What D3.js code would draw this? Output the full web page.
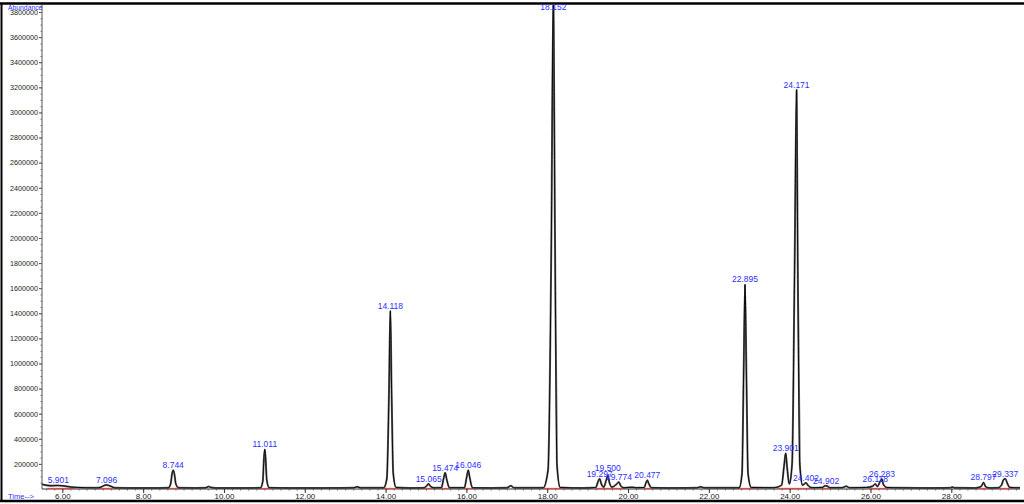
<!DOCTYPE html>
<html>
<head>
<meta charset="utf-8">
<script src="https://cdn.jsdelivr.net/npm/d3@7"></script>
<style>
  body { margin: 0; background: #fff; }
  text { font-family: "Liberation Sans", Arial, sans-serif; }
</style>
</head>
<body>
<svg id="chart" width="1024" height="504"></svg>
<script>
// chromatogram trace: [time (min), abundance]
const tracePoints = [
  [5.50, 38000],[5.60, 30000],[5.75, 26000],[5.90, 28000],[6.05, 24000],[6.20, 16000],[6.40, 12000],[6.60, 10000],[6.85, 9000],
  [6.95, 14000],[7.05, 30000],[7.10, 32000],[7.20, 22000],[7.30, 9000],
  [7.60, 8000],[8.00, 8000],[8.40, 8000],
  [8.62, 9000],[8.68, 40000],[8.72, 130000],[8.744, 150000],[8.77, 125000],[8.81, 40000],[8.88, 9000],
  [9.30, 8000],[9.55, 9000],[9.62, 20000],[9.68, 12000],[9.80, 8000],
  [10.50, 8000],[10.90, 9000],[10.96, 60000],[10.99, 250000],[11.011, 315000],[11.03, 250000],[11.06, 70000],[11.12, 10000],
  [11.60, 8000],[12.40, 8000],[13.20, 9000],[13.30, 18000],[13.38, 9000],
  [13.95, 9000],[14.03, 80000],[14.08, 700000],[14.118, 1420000],[14.15, 750000],[14.19, 120000],[14.26, 12000],
  [14.60, 8000],[14.95, 9000],[15.03, 30000],[15.065, 42000],[15.10, 25000],[15.20, 9000],
  [15.38, 10000],[15.44, 90000],[15.474, 130000],[15.51, 80000],[15.58, 10000],
  [15.95, 10000],[16.01, 100000],[16.046, 150000],[16.08, 95000],[16.15, 10000],
  [16.60, 8000],[17.00, 9000],[17.10, 25000],[17.18, 9000],
  [17.90, 9000],[18.02, 150000],[18.10, 1900000],[18.152, 3950000],[18.19, 2100000],[18.24, 200000],[18.32, 12000],
  [18.90, 8000],[19.20, 12000],[19.26, 60000],[19.297, 82000],[19.34, 40000],[19.40, 15000],[19.46, 70000],[19.50, 105000],
  [19.54, 50000],[19.60, 15000],[19.72, 40000],[19.774, 55000],[19.82, 25000],[19.90, 10000],
  [20.10, 14000],[20.20, 10000],[20.40, 12000],[20.45, 55000],[20.477, 70000],[20.51, 45000],[20.58, 10000],
  [21.00, 8000],[21.70, 9000],[21.80, 18000],[21.88, 9000],
  [22.75, 9000],[22.82, 120000],[22.86, 900000],[22.895, 1630000],[22.93, 900000],[22.97, 120000],[23.05, 12000],
  [23.60, 10000],[23.80, 30000],[23.86, 180000],[23.901, 285000],[23.94, 160000],[23.99, 40000],
  [24.06, 200000],[24.12, 1700000],[24.171, 3180000],[24.20, 1800000],[24.25, 200000],[24.32, 30000],[24.38, 45000],
  [24.402, 50000],[24.45, 30000],[24.55, 10000],
  [24.80, 12000],[24.88, 25000],[24.92, 24000],[25.00, 10000],
  [25.30, 10000],[25.40, 22000],[25.48, 10000],
  [25.90, 12000],[26.05, 22000],[26.118, 40000],[26.17, 20000],[26.24, 60000],[26.283, 80000],[26.32, 35000],[26.40, 12000],
  [26.80, 9000],[27.50, 8000],[27.98, 9000],[28.02, 16000],[28.08, 9000],
  [28.60, 8000],[28.74, 20000],[28.797, 52000],[28.85, 18000],[28.95, 8000],
  [29.15, 9000],[29.24, 30000],[29.30, 78000],[29.337, 82000],[29.38, 50000],[29.45, 12000],[29.70, 9000]
]

// integrated peaks
const peakLabels = ["5.901","7.096","8.744","11.011","14.118","15.065","15.474","16.046","18.152","19.297","19.500",
  "19.774","20.477","22.895","23.901","24.171","24.402","24.902","26.118","26.283","28.797","29.337"]
const peakHeights = [28000,32000,150000,315000,1420000,42000,130000,150000,3950000,82000,130000,
  55000,70000,1630000,285000,3180000,50000,25000,40000,80000,52000,82000]
const integStart = [5.62,6.88,8.60,10.85,13.93,14.92,15.36,15.93,17.88,19.20,19.44,
  19.68,20.38,22.72,23.70,24.03,24.32,24.78,25.95,26.20,28.45,29.15]
const integEnd = [6.30,7.30,8.92,11.40,14.50,15.22,15.62,16.40,18.60,19.44,19.68,
  19.95,20.62,23.30,24.03,24.32,24.55,25.05,26.20,26.45,29.00,29.50]

const xTicks = [6,8,10,12,14,16,18,20,22,24,26,28]
const yTicks = d3.range(200000, 3800001, 200000)

const svg = d3.select("#chart")
const mLeft = 42, mRight = 1020, mTop = 5, mBottom = 489

const x = d3.scaleLinear().domain([5.497, 29.7]).range([mLeft, mRight])
const y = d3.scaleLinear().domain([0, 3856000]).range([mBottom, mTop])

svg.append("defs").append("clipPath").attr("id", "plot")
  .append("rect").attr("x", mLeft).attr("y", mTop).attr("width", mRight - mLeft).attr("height", mBottom - mTop + 2)

// frame
svg.append("line").attr("x1", 0).attr("x2", 1024).attr("y1", 3.5).attr("y2", 3.5)
  .attr("stroke", "#000").attr("stroke-width", 2.5)
svg.append("line").attr("x1", 0).attr("x2", 1024).attr("y1", 501).attr("y2", 501)
  .attr("stroke", "#000").attr("stroke-width", 2.5)
svg.append("line").attr("x1", 1.5).attr("x2", 1.5).attr("y1", 3).attr("y2", 502)
  .attr("stroke", "#000").attr("stroke-width", 2)

// y axis
const yAxis = svg.append("g").attr("transform", `translate(${mLeft},0)`)
  .call(d3.axisLeft(y).tickValues(yTicks).tickSize(3).tickPadding(1).tickFormat(d3.format("d")))
yAxis.select(".domain").remove()
yAxis.selectAll("text").attr("font-size", 7.2).attr("fill", "#222")
yAxis.selectAll(".tick line").attr("stroke", "#444")
svg.append("g").attr("transform", `translate(${mLeft},0)`)
  .call(d3.axisLeft(y).tickValues(d3.range(50000, 3850001, 50000)).tickSize(1.5).tickFormat(""))
  .call(g => g.select(".domain").remove())
  .selectAll("line").attr("stroke", "#777")
svg.append("line").attr("x1", mLeft).attr("x2", mLeft).attr("y1", mTop).attr("y2", mBottom)
  .attr("stroke", "#555").attr("stroke-width", 1)

// x axis
svg.append("line").attr("x1", mLeft).attr("x2", mRight).attr("y1", mBottom).attr("y2", mBottom)
  .attr("stroke", "#333").attr("stroke-width", 1)
svg.append("g").attr("transform", `translate(0,${mBottom})`)
  .call(d3.axisBottom(x).tickValues(d3.range(5.6, 29.7, 0.2)).tickSize(1.5).tickFormat(""))
  .call(g => g.select(".domain").remove())
  .selectAll("line").attr("stroke", "#666")
const xAxis = svg.append("g").attr("transform", `translate(0,${mBottom})`)
  .call(d3.axisBottom(x).tickValues(xTicks).tickSize(4).tickPadding(0).tickFormat(d3.format(".2f")))
xAxis.select(".domain").remove()
xAxis.selectAll("text").attr("font-size", 8).attr("fill", "#222")
xAxis.selectAll(".tick line").attr("stroke", "#333")

svg.append("text").attr("x", 8).attr("y", 499).attr("font-size", 7.5).attr("fill", "#2f2fff").text("Time-->")
svg.append("text").attr("x", 8).attr("y", 9.5).attr("font-size", 6.8).attr("fill", "#2f2fff").text("Abundance")

const plot = svg.append("g").attr("clip-path", "url(#plot)")

// integration baselines
plot.selectAll("line.integ")
  .data(peakLabels)
  .join("line")
    .attr("class", "integ")
    .attr("x1", (d, i) => x(integStart[i]))
    .attr("x2", (d, i) => x(integEnd[i]))
    .attr("y1", y(5000)).attr("y2", y(5000))
    .attr("stroke", "#ff3030").attr("stroke-width", 1)

// trace
const line = d3.line()
  .x(d => x(d[0]))
  .y(d => y(d[1]))
  .curve(d3.curveMonotoneX)
plot.append("path")
  .datum(tracePoints)
  .attr("fill", "none")
  .attr("stroke", "#666")
  .attr("stroke-width", 2)
  .attr("d", line)
plot.append("path")
  .datum(tracePoints)
  .attr("fill", "none")
  .attr("stroke", "#000")
  .attr("stroke-width", 0.9)
  .attr("d", line)

// peak labels
svg.append("g")
  .selectAll("text")
  .data(peakLabels)
  .join("text")
    .attr("x", d => x(+d))
    .attr("y", (d, i) => Math.max(y(peakHeights[i]) - 2, 10))
    .attr("text-anchor", "middle")
    .attr("font-size", 8.5)
    .attr("fill", "#2f2fff")
    .text(d => d)
</script>
</body>
</html>
